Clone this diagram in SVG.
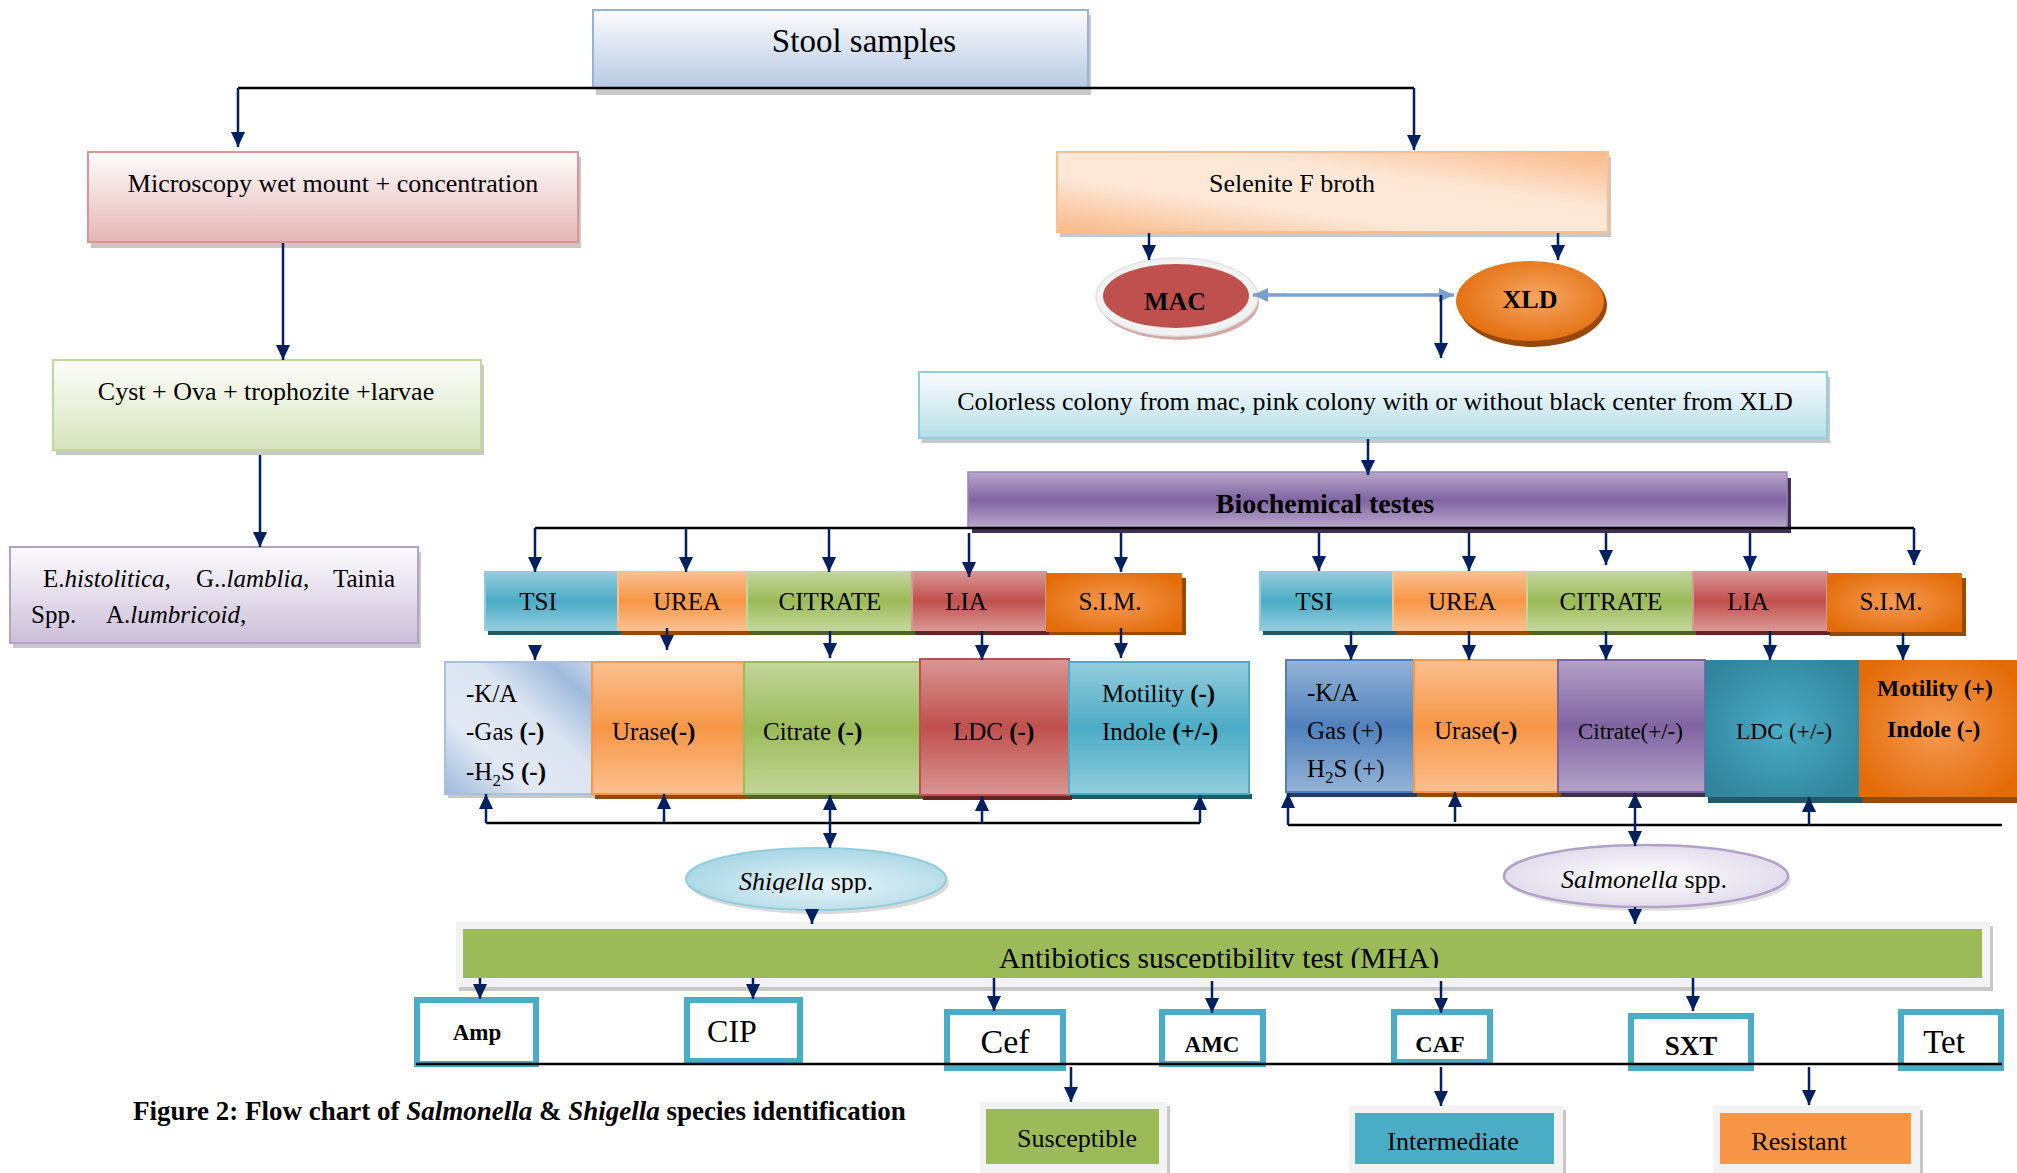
<svg xmlns="http://www.w3.org/2000/svg" width="2017" height="1173" viewBox="0 0 2017 1173">
<defs>
<style>
.t{font-family:"Liberation Serif","Times New Roman",serif;fill:#000}
.b{font-weight:bold}
.i{font-style:italic}
.sh{fill:#9a9a9a;opacity:0.55}
.nv{stroke:#002060;stroke-width:2.5;fill:none;marker-end:url(#ah)}
.bk{stroke:#000;stroke-width:2.5;fill:none}
.ab{fill:#fff;stroke:#4bacc6;stroke-width:6}
</style>
<marker id="ah" markerUnits="userSpaceOnUse" markerWidth="16" markerHeight="16" viewBox="0 0 16 16" refX="15" refY="8" orient="auto"><path d="M0,1 L15,8 L0,15 z" fill="#002060"/></marker>
<marker id="ahb" markerUnits="userSpaceOnUse" markerWidth="16" markerHeight="16" viewBox="0 0 16 16" refX="15" refY="8" orient="auto-start-reverse"><path d="M0,1 L15,8 L0,15 z" fill="#7aa0cb"/></marker>
<linearGradient id="gStool" x1="0" y1="0" x2="0" y2="1"><stop offset="0" stop-color="#fcfcfe"/><stop offset="1" stop-color="#b7cae3"/></linearGradient>
<linearGradient id="gMicro" x1="0" y1="0" x2="0" y2="1"><stop offset="0" stop-color="#fefcfc"/><stop offset="1" stop-color="#e5b6b5"/></linearGradient>
<linearGradient id="gCyst" x1="0" y1="0" x2="0" y2="1"><stop offset="0" stop-color="#fdfefb"/><stop offset="1" stop-color="#d6e3bb"/></linearGradient>
<linearGradient id="gPara" x1="0" y1="0" x2="0" y2="1"><stop offset="0" stop-color="#fdfcfe"/><stop offset="1" stop-color="#cbbfd9"/></linearGradient>
<linearGradient id="gColony" x1="0" y1="0" x2="0" y2="1"><stop offset="0" stop-color="#fbfdfe"/><stop offset="1" stop-color="#b5dde7"/></linearGradient>
<linearGradient id="gSel" x1="0" y1="1" x2="1" y2="0"><stop offset="0" stop-color="#f8b887"/><stop offset="0.35" stop-color="#fde8d8"/><stop offset="0.65" stop-color="#fce6d4"/><stop offset="1" stop-color="#f8b887"/></linearGradient>
<linearGradient id="gBio" x1="0" y1="0" x2="0" y2="1"><stop offset="0" stop-color="#b8a8cb"/><stop offset="0.5" stop-color="#8064a2"/><stop offset="1" stop-color="#b8a8cb"/></linearGradient>
<linearGradient id="bTeal" x1="0" y1="0" x2="0" y2="1"><stop offset="0" stop-color="#93cddd"/><stop offset="0.5" stop-color="#4bacc6"/><stop offset="1" stop-color="#93cddd"/></linearGradient>
<linearGradient id="bOrange" x1="0" y1="0" x2="0" y2="1"><stop offset="0" stop-color="#fac090"/><stop offset="0.5" stop-color="#f79646"/><stop offset="1" stop-color="#fac090"/></linearGradient>
<linearGradient id="bGreen" x1="0" y1="0" x2="0" y2="1"><stop offset="0" stop-color="#c3d69b"/><stop offset="0.5" stop-color="#9bbb59"/><stop offset="1" stop-color="#c3d69b"/></linearGradient>
<linearGradient id="bRed" x1="0" y1="0" x2="0" y2="1"><stop offset="0" stop-color="#d99694"/><stop offset="0.5" stop-color="#c0504d"/><stop offset="1" stop-color="#d99694"/></linearGradient>
<linearGradient id="bBlue" x1="0" y1="0" x2="0" y2="1"><stop offset="0" stop-color="#95b3d7"/><stop offset="0.5" stop-color="#4f81bd"/><stop offset="1" stop-color="#95b3d7"/></linearGradient>
<linearGradient id="bPurple" x1="0" y1="0" x2="0" y2="1"><stop offset="0" stop-color="#b3a2c7"/><stop offset="0.5" stop-color="#8064a2"/><stop offset="1" stop-color="#b3a2c7"/></linearGradient>
<radialGradient id="rSim" cx="0.5" cy="0.5" r="0.6"><stop offset="0" stop-color="#f59a52"/><stop offset="1" stop-color="#e36c09"/></radialGradient>
<radialGradient id="rLdc" cx="0.5" cy="0.5" r="0.6"><stop offset="0" stop-color="#4bacc6"/><stop offset="1" stop-color="#31859c"/></radialGradient>
<linearGradient id="gTsiRes" x1="0" y1="1" x2="1" y2="0"><stop offset="0" stop-color="#9db9dc"/><stop offset="0.3" stop-color="#e2e9f4"/><stop offset="0.6" stop-color="#dbe4f1"/><stop offset="0.85" stop-color="#9fbadc"/><stop offset="1" stop-color="#c9d7eb"/></linearGradient>
<radialGradient id="rShig" cx="0.55" cy="0.6" r="0.6"><stop offset="0" stop-color="#e6f3f8"/><stop offset="1" stop-color="#a9d7e5"/></radialGradient>
<radialGradient id="rSalm" cx="0.5" cy="0.5" r="0.6"><stop offset="0" stop-color="#ffffff"/><stop offset="1" stop-color="#ddd6e8"/></radialGradient>
<radialGradient id="rXld" cx="0.55" cy="0.45" r="0.6"><stop offset="0" stop-color="#f5a765"/><stop offset="1" stop-color="#e36c09"/></radialGradient>
<clipPath id="cAnti"><rect x="463" y="929" width="1519" height="39"/></clipPath>
<clipPath id="cShig"><rect x="686" y="840" width="262" height="53"/></clipPath>
</defs>
<rect x="0" y="0" width="2017" height="1173" fill="#fff"/>

<g id="stool">
<rect class="sh" x="596" y="15" width="495" height="80"/>
<rect x="593" y="10" width="495" height="78" fill="url(#gStool)" stroke="#95b3d7" stroke-width="2"/>
<text class="t" x="864" y="52" font-size="33" text-anchor="middle">Stool samples</text>
</g>

<g id="microscopy">
<rect class="sh" x="91" y="157" width="490" height="91"/>
<rect x="88" y="152" width="490" height="90" fill="url(#gMicro)" stroke="#d99694" stroke-width="2"/>
<text class="t" x="333" y="192" font-size="26" text-anchor="middle">Microscopy wet mount + concentration</text>
</g>

<g id="cyst">
<rect class="sh" x="56" y="365" width="428" height="90"/>
<rect x="53" y="360" width="428" height="90" fill="url(#gCyst)" stroke="#c3d69b" stroke-width="2"/>
<text class="t" x="266" y="400" font-size="26" text-anchor="middle">Cyst + Ova + trophozite +larvae</text>
</g>

<g id="parasites">
<rect class="sh" x="13" y="552" width="408" height="96"/>
<rect x="10" y="547" width="408" height="96" fill="url(#gPara)" stroke="#b3a2c7" stroke-width="2"/>
<text class="t" y="587" font-size="25"><tspan x="43">E.</tspan><tspan class="i">histolitica</tspan><tspan>,</tspan><tspan x="196">G..</tspan><tspan class="i">lamblia</tspan><tspan>,</tspan><tspan x="333">Tainia</tspan></text>
<text class="t" y="623" font-size="25"><tspan x="31">Spp.</tspan><tspan x="106">A.</tspan><tspan class="i">lumbricoid</tspan><tspan>,</tspan></text>
</g>

<g id="selenite">
<rect class="sh" x="1060" y="157" width="551" height="80"/>
<rect x="1057" y="152" width="551" height="80" fill="url(#gSel)" stroke="#fac090" stroke-width="2"/>
<text class="t" x="1292" y="192" font-size="26" text-anchor="middle">Selenite F broth</text>
</g>

<g id="mac">
<ellipse cx="1179" cy="302" rx="80" ry="38" fill="#d3a9a8"/>
<ellipse cx="1177" cy="297" rx="81" ry="39" fill="#f2f2f2" stroke="#e3e3e3" stroke-width="1.5"/>
<ellipse cx="1176" cy="296" rx="73" ry="32" fill="#c0504d"/>
<text class="t b" x="1175" y="310" font-size="26" text-anchor="middle">MAC</text>
</g>

<g id="xld">
<ellipse cx="1533" cy="305" rx="74" ry="42" fill="#984807"/>
<ellipse cx="1530" cy="301" rx="74" ry="40" fill="url(#rXld)"/>
<text class="t b" x="1530" y="308" font-size="26" text-anchor="middle">XLD</text>
</g>

<g id="colony">
<rect class="sh" x="922" y="377" width="908" height="66"/>
<rect x="919" y="372" width="908" height="66" fill="url(#gColony)" stroke="#93cddd" stroke-width="2"/>
<text class="t" x="1375" y="410" font-size="26" text-anchor="middle">Colorless colony from mac, pink colony with or without black center from XLD</text>
</g>

<g id="biochemical">
<rect x="972" y="478" width="819" height="55" fill="#3f3151"/>
<rect x="968" y="472" width="819" height="56" fill="url(#gBio)" stroke="#9a86b6" stroke-width="1.5"/>
<text class="t b" x="1325" y="513" font-size="28" text-anchor="middle">Biochemical testes</text>
</g>

<g id="tests-shigella">
<rect x="488" y="578" width="133" height="57" fill="#215968"/>
<rect x="485" y="572" width="133" height="58" fill="url(#bTeal)" stroke="#93cddd" stroke-width="2"/>
<rect x="621" y="578" width="129" height="57" fill="#984807"/>
<rect x="618" y="572" width="129" height="58" fill="url(#bOrange)" stroke="#fac090" stroke-width="2"/>
<rect x="750" y="578" width="165" height="57" fill="#4f6228"/>
<rect x="747" y="572" width="165" height="58" fill="url(#bGreen)" stroke="#c3d69b" stroke-width="2"/>
<rect x="915" y="578" width="134" height="57" fill="#632523"/>
<rect x="912" y="572" width="134" height="58" fill="url(#bRed)" stroke="#d99694" stroke-width="2"/>
<rect x="1049" y="578" width="137" height="57" fill="#984807"/>
<rect x="1046" y="573" width="136" height="59" fill="url(#rSim)"/>
<g class="t" font-size="25" text-anchor="middle">
<text x="538" y="610">TSI</text><text x="687" y="610">UREA</text><text x="830" y="610">CITRATE</text><text x="966" y="610">LIA</text><text x="1110" y="610">S.I.M.</text>
</g>
</g>

<g id="tests-salmonella">
<rect x="1263" y="578" width="133" height="57" fill="#215968"/>
<rect x="1260" y="572" width="133" height="58" fill="url(#bTeal)" stroke="#93cddd" stroke-width="2"/>
<rect x="1396" y="578" width="134" height="57" fill="#984807"/>
<rect x="1393" y="572" width="134" height="58" fill="url(#bOrange)" stroke="#fac090" stroke-width="2"/>
<rect x="1530" y="578" width="166" height="57" fill="#4f6228"/>
<rect x="1527" y="572" width="166" height="58" fill="url(#bGreen)" stroke="#c3d69b" stroke-width="2"/>
<rect x="1696" y="578" width="134" height="57" fill="#632523"/>
<rect x="1693" y="572" width="134" height="58" fill="url(#bRed)" stroke="#d99694" stroke-width="2"/>
<rect x="1830" y="578" width="136" height="58" fill="#984807"/>
<rect x="1827" y="573" width="135" height="59" fill="url(#rSim)"/>
<g class="t" font-size="25" text-anchor="middle">
<text x="1314" y="610">TSI</text><text x="1462" y="610">UREA</text><text x="1611" y="610">CITRATE</text><text x="1748" y="610">LIA</text><text x="1891" y="610">S.I.M.</text>
</g>
</g>

<g id="results-shigella">
<rect class="sh" x="448" y="794" width="147" height="4"/>
<rect x="445" y="662" width="147" height="132" fill="url(#gTsiRes)" stroke="#a9c0de" stroke-width="2"/>
<rect x="595" y="794" width="152" height="5" fill="#984807"/>
<rect x="592" y="662" width="152" height="132" fill="url(#bOrange)" stroke="#f79646" stroke-width="2"/>
<rect x="747" y="794" width="176" height="5" fill="#4f6228"/>
<rect x="744" y="662" width="176" height="132" fill="url(#bGreen)" stroke="#9bbb59" stroke-width="2"/>
<rect x="923" y="795" width="149" height="5" fill="#632523"/>
<rect x="920" y="659" width="149" height="136" fill="url(#bRed)" stroke="#c0504d" stroke-width="2"/>
<rect x="1072" y="794" width="180" height="5" fill="#215968"/>
<rect x="1069" y="662" width="180" height="132" fill="url(#bTeal)" stroke="#4bacc6" stroke-width="2"/>
<g class="t" font-size="25">
<text x="466" y="702">-K/A</text>
<text x="466" y="740">-Gas <tspan class="b">(-)</tspan></text>
<text x="466" y="780">-H<tspan font-size="17" dy="6">2</tspan><tspan dy="-6">S </tspan><tspan class="b">(-)</tspan></text>
<text x="612" y="740">Urase<tspan class="b">(-)</tspan></text>
<text x="763" y="740">Citrate <tspan class="b">(-)</tspan></text>
<text x="953" y="740">LDC <tspan class="b">(-)</tspan></text>
<text x="1102" y="702">Motility <tspan class="b">(-)</tspan></text>
<text x="1102" y="740">Indole <tspan class="b">(+/-)</tspan></text>
</g>
</g>

<g id="results-salmonella">
<rect x="1289" y="792" width="128" height="5" fill="#243f60"/>
<rect x="1286" y="660" width="128" height="132" fill="url(#bBlue)" stroke="#4f81bd" stroke-width="2"/>
<rect x="1417" y="792" width="144" height="5" fill="#984807"/>
<rect x="1414" y="660" width="144" height="132" fill="url(#bOrange)" stroke="#f79646" stroke-width="2"/>
<rect x="1561" y="792" width="147" height="5" fill="#3f3151"/>
<rect x="1558" y="660" width="147" height="132" fill="url(#bPurple)" stroke="#8064a2" stroke-width="2"/>
<rect x="1708" y="797" width="154" height="6" fill="#215968"/>
<rect x="1705" y="660" width="154" height="137" fill="url(#rLdc)"/>
<rect x="1862" y="797" width="155" height="6" fill="#984807"/>
<rect x="1859" y="660" width="158" height="137" fill="url(#rSim)"/>
<g class="t" font-size="25">
<text x="1307" y="701">-K/A</text>
<text x="1307" y="739">Gas (+)</text>
<text x="1307" y="777">H<tspan font-size="17" dy="6">2</tspan><tspan dy="-6">S (+)</tspan></text>
<text x="1434" y="739">Urase<tspan class="b">(-)</tspan></text>
<text x="1578" y="739" font-size="23">Citrate(+/-)</text>
<text x="1736" y="739" font-size="23.5">LDC (+/-)</text>
<text class="b" x="1877" y="696" font-size="23.5">Motility (+)</text>
<text class="b" x="1887" y="737" font-size="23.5">Indole (-)</text>
</g>
</g>

<g id="shigella">
<ellipse cx="819" cy="883" rx="130" ry="31" fill="#b5b5b5" opacity="0.5"/>
<ellipse cx="816" cy="879" rx="130" ry="31" fill="url(#rShig)" stroke="#93cddd" stroke-width="2"/>
<text class="t" x="739" y="890" font-size="26" clip-path="url(#cShig)"><tspan class="i">Shigella</tspan> spp.</text>
</g>

<g id="salmonella">
<ellipse cx="1649" cy="880" rx="142" ry="31" fill="#b5b5b5" opacity="0.4"/>
<ellipse cx="1646" cy="876" rx="142" ry="31" fill="url(#rSalm)" stroke="#b3a2c7" stroke-width="2.5"/>
<text class="t" x="1561" y="888" font-size="26"><tspan class="i">Salmonella</tspan> spp.</text>
</g>

<g id="antibiotics">
<rect class="sh" x="459" y="926" width="1534" height="65"/>
<rect x="456" y="922" width="1534" height="65" fill="#f2f2f2"/>
<rect x="463" y="929" width="1519" height="49" fill="#9bbb59"/>
<text class="t" x="999" y="968" font-size="29.5" clip-path="url(#cAnti)">Antibiotics susceptibility test (MHA)</text>
</g>

<g id="amp"><rect class="ab" x="417" y="1000" width="119" height="64"/><text class="t b" x="477" y="1040" font-size="23" text-anchor="middle">Amp</text></g>
<g id="cip"><rect class="ab" x="687" y="1000" width="113" height="61"/><text class="t" x="732" y="1042" font-size="32" text-anchor="middle">CIP</text></g>
<g id="cef"><rect class="ab" x="947" y="1012" width="116" height="56"/><text class="t" x="1005" y="1053" font-size="34" text-anchor="middle">Cef</text></g>
<g id="amc"><rect class="ab" x="1162" y="1012" width="101" height="52"/><text class="t b" x="1212" y="1052" font-size="23" text-anchor="middle">AMC</text></g>
<g id="caf"><rect class="ab" x="1394" y="1012" width="96" height="50"/><text class="t b" x="1440" y="1052" font-size="24" text-anchor="middle">CAF</text></g>
<g id="sxt"><rect class="ab" x="1631" y="1016" width="120" height="52"/><text class="t b" x="1691" y="1055" font-size="27" text-anchor="middle">SXT</text></g>
<g id="tet"><rect class="ab" x="1901" y="1012" width="100" height="56"/><text class="t" x="1944" y="1053" font-size="33" text-anchor="middle">Tet</text></g>

<g id="susceptible">
<rect class="sh" x="983" y="1106" width="187" height="67"/>
<rect x="980" y="1102" width="187" height="71" fill="#f2f2f2"/>
<rect x="986" y="1109" width="173" height="55" fill="#9bbb59"/>
<text class="t" x="1077" y="1147" font-size="26" text-anchor="middle">Susceptible</text>
</g>
<g id="intermediate">
<rect class="sh" x="1352" y="1110" width="214" height="63"/>
<rect x="1349" y="1106" width="214" height="67" fill="#f2f2f2"/>
<rect x="1355" y="1113" width="199" height="51" fill="#4bacc6"/>
<text class="t" x="1453" y="1150" font-size="26" text-anchor="middle">Intermediate</text>
</g>
<g id="resistant">
<rect class="sh" x="1716" y="1110" width="207" height="63"/>
<rect x="1713" y="1106" width="207" height="67" fill="#f2f2f2"/>
<rect x="1720" y="1113" width="191" height="51" fill="#f79646"/>
<text class="t" x="1799" y="1150" font-size="26" text-anchor="middle">Resistant</text>
</g>

<g id="caption">
<text class="t b" x="133" y="1120" font-size="27">Figure 2: Flow chart of <tspan class="i">Salmonella</tspan> &amp; <tspan class="i">Shigella</tspan> species identification</text>
</g>

<g id="connectors">
<path class="bk" d="M238,88 H1414"/>
<path class="nv" d="M238,88 V147"/>
<path class="nv" d="M1414,88 V150"/>
<path class="nv" d="M283,243 V360"/>
<path class="nv" d="M260,455 V547"/>
<path class="nv" d="M1149,233 V260"/>
<path class="nv" d="M1558,233 V260"/>
<path d="M1253,295 H1454" stroke="#7aa0cb" stroke-width="3.5" fill="none" marker-start="url(#ahb)" marker-end="url(#ahb)"/>
<path class="nv" d="M1441,295 V358"/>
<path class="nv" d="M1368,439 V475"/>
<path class="bk" d="M535,528 H1914"/>
<path class="nv" d="M535,528 V572"/>
<path class="nv" d="M686,528 V572"/>
<path class="nv" d="M829,528 V572"/>
<path class="nv" d="M969,533 V577"/>
<path class="nv" d="M1121,533 V572"/>
<path class="nv" d="M1319,533 V571"/>
<path class="nv" d="M1469,533 V571"/>
<path class="nv" d="M1606,533 V565"/>
<path class="nv" d="M1750,533 V571"/>
<path class="nv" d="M1914,528 V565"/>
<path class="nv" d="M535,645 V660"/>
<path class="nv" d="M667,628 V650"/>
<path class="nv" d="M830,631 V658"/>
<path class="nv" d="M982,631 V660"/>
<path class="nv" d="M1121,628 V658"/>
<path class="nv" d="M1351,631 V660"/>
<path class="nv" d="M1469,631 V660"/>
<path class="nv" d="M1606,631 V660"/>
<path class="nv" d="M1770,631 V660"/>
<path class="nv" d="M1903,633 V660"/>
<path class="bk" d="M486,823 H1200"/>
<path class="nv" d="M486,823 V794"/>
<path class="nv" d="M664,823 V794"/>
<path class="nv" d="M830,823 V795"/>
<path class="nv" d="M982,823 V796"/>
<path class="nv" d="M1200,823 V795"/>
<path class="nv" d="M830,823 V848"/>
<path class="nv" d="M812,910 V924"/>
<path class="bk" d="M1288,825 H2002"/>
<path class="nv" d="M1288,825 V793"/>
<path class="nv" d="M1455,822 V792"/>
<path class="nv" d="M1635,825 V793"/>
<path class="nv" d="M1809,825 V797"/>
<path class="nv" d="M1635,825 V846"/>
<path class="nv" d="M1635,907 V924"/>
<path class="nv" d="M480,978 V999"/>
<path class="nv" d="M753,978 V999"/>
<path class="nv" d="M994,978 V1011"/>
<path class="nv" d="M1212,981 V1013"/>
<path class="nv" d="M1441,981 V1013"/>
<path class="nv" d="M1693,978 V1011"/>
<path class="bk" d="M416,1064 H2002"/>
<path class="nv" d="M1071,1067 V1102"/>
<path class="nv" d="M1441,1067 V1106"/>
<path class="nv" d="M1809,1067 V1105"/>
</g>
</svg>
